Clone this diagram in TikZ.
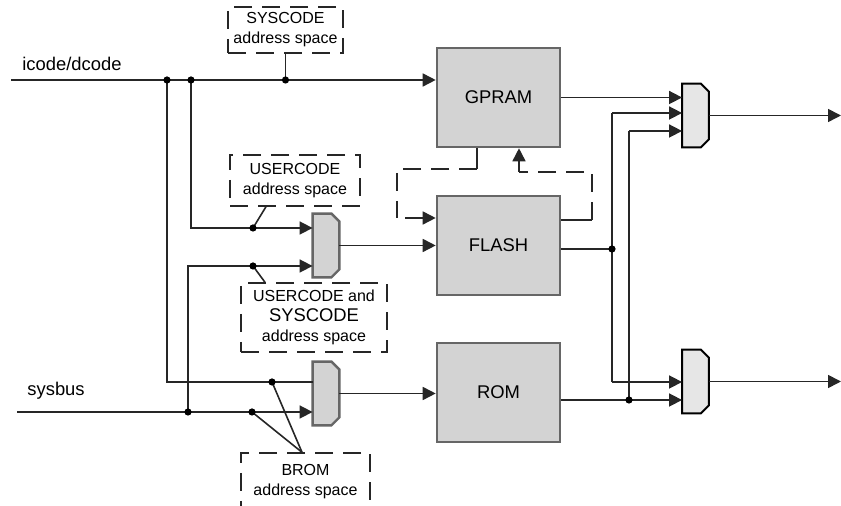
\documentclass[tikz,border=0pt]{standalone}
\usepackage{fontspec}
\setmainfont{Liberation Sans}
\usetikzlibrary{arrows.meta}

\definecolor{blockfill}{HTML}{D3D3D3}
\definecolor{blockedge}{HTML}{666666}
\definecolor{muxfill}{HTML}{E6E6E6}
\definecolor{wirecol}{HTML}{262626}

\tikzset{
  wire/.style={draw=wirecol, line width=0.8pt},
  arr/.style={wire, -{Triangle[length=6.5pt,width=6.5pt]}},
  dashwire/.style={wire, line width=0.7pt, dash pattern=on 9pt off 5pt},
  block/.style={draw=blockedge, fill=blockfill, line width=1.3pt,
    minimum width=61.5pt, minimum height=49.5pt, font=\fontsize{9.2}{11}\selectfont},
  mux/.style={rectangle, minimum width=13pt, minimum height=31.5pt, inner sep=0pt},
  muxgray/.style={draw=blockedge, fill=blockfill, line width=1.2pt},
  muxblack/.style={draw=black, fill=muxfill, line width=1pt},
  addrbox/.style={draw=wirecol, line width=0.7pt, dash pattern=on 9pt off 5pt,
    align=center, inner sep=0pt, font=\fontsize{8}{10}\selectfont},
  busname/.style={anchor=west, inner sep=0pt, font=\fontsize{9.2}{11}\selectfont},
}

\begin{document}
\begin{tikzpicture}[x=0.5pt, y=-0.5pt]

    \useasboundingbox (0,0) rectangle (841,506);

    % Memory blocks
    \node[block] (gpram) at (498.5,97.5)  {GPRAM};
    \node[block] (flash) at (498.5,245.5) {FLASH};
    \node[block] (rom)   at (498.5,392.5) {ROM};

    % Multiplexers
    \node[mux] (muxA) at (326,245.5)   {};   % in front of FLASH
    \node[mux] (muxB) at (326,393.5)   {};   % in front of ROM
    \node[mux] (muxC) at (695.5,115.5) {};   % upper output
    \node[mux] (muxD) at (695.5,381.5) {};   % lower output
    \foreach \m/\s in {muxA/muxgray, muxB/muxgray, muxC/muxblack, muxD/muxblack}
        \draw[\s] (\m.north west) -- ([xshift=-4pt]\m.north east)
            -- ([yshift=-4pt]\m.north east) -- ([yshift=4pt]\m.south east)
            -- ([xshift=-4pt]\m.south east) -- (\m.south west) -- cycle;

    % Address space boxes
    \node[addrbox, minimum width=57.5pt, minimum height=23pt] (sys) at (285.5,30)
        {SYSCODE\\address space};
    \node[addrbox, minimum width=65pt, minimum height=25.5pt] (usr) at (295,180.5)
        {USERCODE\\address space};
    \node[addrbox, minimum width=73pt, minimum height=34.5pt] (both) at (314,317.5)
        {USERCODE and\\{\fontsize{9.2}{11}\selectfont SYSCODE}\\address space};
    \node[addrbox, minimum width=64.5pt, minimum height=29pt] (brom) at (305.5,482)
        {BROM\\address space};

    % Bus names
    \node[busname] (icodelbl)  at (22,64)  {icode/dcode};
    \node[busname] (sysbuslbl) at (27,391) {sysbus};

    % Bus ends and junctions
    \coordinate (icode)  at (11,80);
    \coordinate (sysbus) at (17,412);
    \coordinate (dA) at (167,80);
    \coordinate (dB) at (191,80);
    \coordinate (dC) at (285.5,80);
    \coordinate (dD) at (253,228);
    \coordinate (dE) at (253,266);
    \coordinate (dF) at (272,382);
    \coordinate (dG) at (188,412);
    \coordinate (dH) at (252,412);
    \coordinate (dI) at (612,249);
    \coordinate (dJ) at (629,400);

    % Corners of the wires
    \coordinate (cA) at (167,382);
    \coordinate (cB) at (191,228);
    \coordinate (cC) at (188,266);
    \coordinate (cD) at (612,113);
    \coordinate (cE) at (612,382);
    \coordinate (cF) at (629,131);
    \coordinate (outC) at (841,115.5);
    \coordinate (outD) at (841,381.5);

    % icode/dcode bus
    \draw[arr] (icode) -- (gpram.west |- icode);
    \draw[wire] (dC) -- (sys.south);
    \draw[wire] (dA) -- (cA) -- (muxB.west |- cA);
    \draw[arr] (dB) -- (cB) -- (muxA.west |- cB);

    % sysbus
    \draw[arr] (sysbus) -- (muxB.west |- sysbus);
    \draw[arr] (dG) -- (cC) -- (muxA.west |- cC);

    % Address space pointers
    \draw[wire] (dD) -- (266,0 |- usr.south);
    \draw[wire] (dE) -- (265,0 |- both.north);
    \draw[wire] (dF) -- (302,0 |- brom.north);
    \draw[wire] (dH) -- (302,0 |- brom.north);

    % Multiplexers to memories
    \draw[arr] (muxA.east) -- (flash.west |- muxA.east);
    \draw[arr] (muxB.east) -- (rom.west |- muxB.east);

    % Loops between GPRAM and FLASH
    \coordinate (lpA) at (477,169);
    \coordinate (lpB) at (397,218);
    \coordinate (lpC) at (405,218);
    \coordinate (rpA) at (592,220);
    \coordinate (rpB) at (519,172);
    \draw[wire] (gpram.south -| lpA) -- (lpA);
    \draw[dashwire] (lpA) -| (lpB);
    \draw[arr] (lpC) -- (flash.west |- lpC);
    \draw[wire] (flash.east |- rpA) -- (rpA);
    \draw[dashwire] (rpA) |- (rpB);
    \draw[arr] (rpB) -- (gpram.south -| rpB);

    % Memories to output multiplexers
    \draw[arr] (gpram.east) -- (muxC.west |- gpram.east);
    \draw[wire] (flash.east |- dI) -- (dI);
    \draw[wire] (cD) -- (cE);
    \draw[arr] (cD) -- (muxC.west |- cD);
    \draw[arr] (cE) -- (muxD.west |- cE);
    \draw[wire] (rom.east |- dJ) -- (dJ);
    \draw[wire] (cF) -- (dJ);
    \draw[arr] (cF) -- (muxC.west |- cF);
    \draw[arr] (dJ) -- (muxD.west |- dJ);
    \draw[arr] (muxC.east) -- (outC);
    \draw[arr] (muxD.east) -- (outD);

    % Junction dots
    \foreach \d in {dA,dB,dC,dD,dE,dF,dG,dH,dI,dJ}
        \fill[black] (\d) circle (1.8pt);

\end{tikzpicture}
\end{document}
